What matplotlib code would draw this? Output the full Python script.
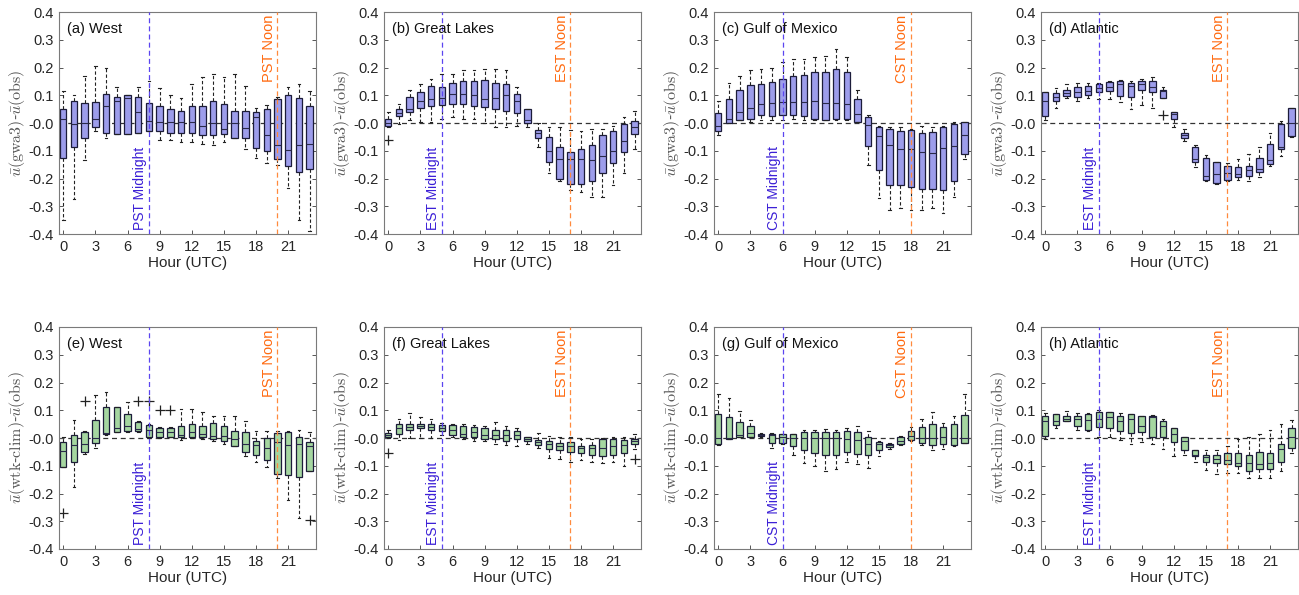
import matplotlib
matplotlib.use('Agg')
import matplotlib.pyplot as plt
import numpy as np

plt.rcParams['font.family'] = ['Liberation Sans', 'DejaVu Sans']
plt.rcParams['mathtext.fontset'] = 'cm'
plt.rcParams['axes.unicode_minus'] = False

hours = list(range(24))

# ---- (a) West, gwa3 ----
a_lo  = [-0.35, -0.275, -0.135, -0.03, -0.055, -0.04, -0.04, -0.035, -0.03, -0.06, -0.06, -0.07,
         -0.07, -0.075, -0.08, -0.07, -0.055, -0.095, -0.125, -0.145, -0.15, -0.235, -0.35, -0.39]
a_q1  = [-0.125, -0.085, -0.055, -0.015, -0.035, -0.04, -0.04, -0.035, -0.03, -0.03, -0.035, -0.035,
         -0.035, -0.045, -0.045, -0.04, -0.055, -0.055, -0.09, -0.10, -0.13, -0.155, -0.175, -0.165]
a_med = [0.015, -0.005, 0.0, 0.015, 0.063, 0.078, 0.09, 0.04, 0.008, 0.005, 0.005, 0.005,
         0.002, -0.01, 0.0, -0.02, 0.0, -0.018, 0.02, -0.045, -0.08, -0.097, -0.08, -0.075]
a_q3  = [0.05, 0.078, 0.072, 0.075, 0.105, 0.095, 0.10, 0.092, 0.073, 0.06, 0.05, 0.045,
         0.06, 0.063, 0.08, 0.07, 0.045, 0.045, 0.04, 0.052, 0.088, 0.10, 0.09, 0.06]
a_hi  = [0.115, 0.10, 0.17, 0.205, 0.20, 0.13, 0.10, 0.13, 0.15, 0.125, 0.10, 0.09,
         0.14, 0.165, 0.175, 0.165, 0.175, 0.135, 0.055, 0.065, 0.093, 0.13, 0.14, 0.115]
a_fl  = {}

# ---- (b) Great Lakes, gwa3 ----
b_lo  = [-0.015, -0.002, 0.01, 0.005, 0.005, 0.015, 0.02, 0.015, 0.015, 0.0, -0.015, -0.015,
         -0.01, -0.015, -0.085, -0.18, -0.21, -0.24, -0.25, -0.265, -0.265, -0.225, -0.18, -0.095]
b_q1  = [-0.01, 0.025, 0.04, 0.055, 0.06, 0.065, 0.07, 0.07, 0.06, 0.057, 0.052, 0.045,
         0.035, 0.0, -0.055, -0.14, -0.20, -0.22, -0.22, -0.21, -0.18, -0.145, -0.105, -0.04]
b_med = [0.0, 0.035, 0.05, 0.078, 0.085, 0.09, 0.105, 0.105, 0.10, 0.085, 0.09, 0.10,
         0.08, 0.012, -0.035, -0.10, -0.13, -0.13, -0.13, -0.135, -0.12, -0.10, -0.065, -0.015]
b_q3  = [0.015, 0.05, 0.095, 0.11, 0.135, 0.13, 0.145, 0.15, 0.15, 0.155, 0.145, 0.14,
         0.105, 0.05, -0.025, -0.05, -0.085, -0.105, -0.095, -0.08, -0.045, -0.03, -0.005, 0.008]
b_hi  = [0.04, 0.07, 0.12, 0.14, 0.16, 0.175, 0.175, 0.19, 0.19, 0.195, 0.195, 0.19,
         0.13, 0.05, 0.0, -0.015, -0.015, -0.025, -0.03, -0.02, -0.02, -0.01, 0.02, 0.045]
b_fl  = {0: [-0.06]}

# ---- (c) Gulf of Mexico, gwa3 ----
c_lo  = [-0.045, 0.0, 0.01, 0.005, 0.012, 0.012, 0.012, 0.015, 0.01, 0.01, 0.01, 0.01,
         0.01, 0.002, -0.15, -0.27, -0.315, -0.305, -0.315, -0.315, -0.305, -0.325, -0.265, -0.13]
c_q1  = [-0.03, 0.0, 0.012, 0.015, 0.03, 0.027, 0.03, 0.03, 0.025, 0.015, 0.012, 0.015,
         0.015, 0.005, -0.082, -0.168, -0.222, -0.222, -0.232, -0.237, -0.237, -0.243, -0.21, -0.113]
c_med = [-0.012, 0.015, 0.04, 0.053, 0.07, 0.072, 0.075, 0.075, 0.075, 0.078, 0.073, 0.072,
         0.07, 0.032, -0.008, -0.048, -0.08, -0.095, -0.095, -0.105, -0.108, -0.09, -0.082, -0.045]
c_q3  = [0.035, 0.088, 0.118, 0.138, 0.142, 0.148, 0.157, 0.168, 0.173, 0.183, 0.185, 0.195,
         0.183, 0.088, 0.02, -0.015, -0.022, -0.03, -0.025, -0.035, -0.032, -0.015, -0.003, 0.005]
c_hi  = [0.08, 0.145, 0.17, 0.19, 0.195, 0.198, 0.22, 0.232, 0.23, 0.237, 0.24, 0.265,
         0.238, 0.12, 0.03, -0.01, -0.015, -0.015, -0.02, -0.01, -0.015, -0.01, 0.005, 0.005]
c_fl  = {}

# ---- (d) Atlantic, gwa3 ----
d_lo  = [0.01, 0.055, 0.09, 0.08, 0.09, 0.085, 0.085, 0.075, 0.05, 0.065, 0.055, 0.09,
         -0.015, -0.065, -0.16, -0.21, -0.22, -0.21, -0.205, -0.21, -0.195, -0.155, -0.12, -0.05]
d_q1  = [0.025, 0.08, 0.098, 0.095, 0.10, 0.11, 0.115, 0.097, 0.095, 0.12, 0.11, 0.09,
         0.015, -0.055, -0.14, -0.205, -0.218, -0.205, -0.195, -0.19, -0.175, -0.148, -0.095, -0.048]
d_med = [0.08, 0.095, 0.108, 0.11, 0.115, 0.125, 0.13, 0.14, 0.135, 0.14, 0.13, 0.115,
         0.033, -0.045, -0.13, -0.19, -0.185, -0.18, -0.185, -0.17, -0.165, -0.135, -0.087, 0.0]
d_q3  = [0.11, 0.108, 0.12, 0.128, 0.133, 0.14, 0.148, 0.152, 0.145, 0.15, 0.15, 0.12,
         0.04, -0.035, -0.085, -0.125, -0.14, -0.155, -0.16, -0.155, -0.125, -0.075, -0.005, 0.053]
d_hi  = [0.11, 0.125, 0.14, 0.145, 0.145, 0.145, 0.15, 0.155, 0.15, 0.16, 0.165, 0.128,
         0.04, -0.02, -0.08, -0.115, -0.14, -0.145, -0.13, -0.11, -0.085, -0.035, 0.008, 0.055]
d_fl  = {11: [0.03]}

# ---- (e) West, wtk-clim ----
e_lo  = [-0.105, -0.175, -0.058, -0.035, 0.01, 0.02, 0.02, 0.02, 0.0, 0.0, 0.003, -0.008,
         0.0, -0.003, -0.01, -0.02, -0.03, -0.065, -0.085, -0.105, -0.145, -0.225, -0.29, -0.12]
e_q1  = [-0.103, -0.088, -0.05, -0.017, 0.013, 0.02, 0.025, 0.025, 0.003, 0.002, 0.005, 0.003,
         0.003, 0.003, -0.005, -0.012, -0.03, -0.05, -0.06, -0.08, -0.13, -0.135, -0.14, -0.12]
e_med = [-0.047, -0.025, -0.02, 0.0, 0.018, 0.035, 0.042, 0.033, 0.03, 0.02, 0.022, 0.012,
         0.02, 0.015, 0.008, 0.008, -0.002, -0.02, -0.025, -0.035, -0.015, -0.027, -0.02, -0.03]
e_q3  = [-0.015, 0.012, 0.022, 0.065, 0.11, 0.11, 0.088, 0.058, 0.047, 0.037, 0.037, 0.045,
         0.05, 0.045, 0.053, 0.045, 0.025, 0.02, -0.01, 0.0, 0.018, 0.02, 0.005, -0.015]
e_hi  = [0.005, 0.065, 0.025, 0.155, 0.165, 0.11, 0.13, 0.06, 0.05, 0.04, 0.04, 0.105,
         0.105, 0.095, 0.08, 0.08, 0.08, 0.06, 0.025, 0.025, 0.025, 0.027, 0.03, 0.02]
e_fl  = {0: [-0.27], 2: [0.135], 7: [0.135], 8: [0.135], 9: [0.10], 10: [0.10], 23: [-0.295]}

# ---- (f) Great Lakes, wtk-clim ----
f_lo  = [0.0, -0.008, 0.0, 0.0, 0.0, 0.01, 0.005, -0.005, -0.012, -0.012, -0.02, -0.025,
         -0.03, -0.02, -0.035, -0.072, -0.075, -0.085, -0.08, -0.085, -0.09, -0.085, -0.10, -0.04]
f_q1  = [0.005, 0.015, 0.03, 0.035, 0.03, 0.025, 0.01, 0.003, 0.005, -0.005, -0.005, -0.01,
         -0.005, -0.012, -0.025, -0.04, -0.045, -0.05, -0.055, -0.06, -0.065, -0.06, -0.053, -0.022]
f_med = [0.012, 0.035, 0.04, 0.043, 0.04, 0.035, 0.03, 0.015, 0.02, 0.012, 0.01, 0.01,
         0.01, -0.005, -0.015, -0.022, -0.03, -0.03, -0.035, -0.035, -0.035, -0.03, -0.025, -0.01]
f_q3  = [0.018, 0.05, 0.05, 0.05, 0.05, 0.048, 0.048, 0.045, 0.04, 0.035, 0.03, 0.028,
         0.025, 0.003, -0.008, -0.01, -0.018, -0.015, -0.03, -0.025, -0.005, -0.002, -0.008, -0.003]
f_hi  = [0.028, 0.07, 0.09, 0.075, 0.07, 0.055, 0.052, 0.05, 0.047, 0.045, 0.057, 0.045,
         0.035, 0.005, 0.018, 0.008, 0.003, 0.003, -0.005, -0.005, 0.0, 0.003, 0.003, 0.015]
f_fl  = {0: [-0.053], 23: [-0.075]}

# ---- (g) Gulf of Mexico, wtk-clim ----
g_lo  = [-0.025, -0.005, 0.005, 0.005, 0.005, -0.035, -0.02, -0.06, -0.09, -0.10, -0.118, -0.11,
         -0.085, -0.095, -0.108, -0.065, -0.04, -0.025, -0.01, -0.025, -0.045, -0.04, -0.03, -0.018]
g_q1  = [-0.02, -0.005, 0.005, 0.005, 0.008, -0.018, -0.018, -0.03, -0.045, -0.053, -0.063, -0.06,
         -0.05, -0.058, -0.062, -0.045, -0.032, -0.02, -0.008, -0.018, -0.025, -0.022, -0.025, -0.018]
g_med = [0.0, 0.0, 0.01, 0.017, 0.012, 0.01, 0.005, 0.0, 0.0, 0.0, 0.0, 0.0,
         -0.005, -0.008, -0.02, -0.02, -0.025, -0.01, 0.008, 0.0, 0.0, 0.005, 0.0, 0.0]
g_q3  = [0.085, 0.077, 0.057, 0.042, 0.016, 0.015, 0.015, 0.015, 0.02, 0.022, 0.02, 0.022,
         0.025, 0.022, 0.005, -0.015, -0.02, 0.003, 0.025, 0.04, 0.05, 0.038, 0.05, 0.083]
g_hi  = [0.16, 0.145, 0.097, 0.065, 0.018, 0.018, 0.015, 0.015, 0.03, 0.03, 0.033, 0.028,
         0.037, 0.042, 0.025, -0.01, -0.018, 0.008, 0.04, 0.07, 0.095, 0.055, 0.08, 0.157]
g_fl  = {}

# ---- (h) Atlantic, wtk-clim ----
h_lo  = [-0.005, 0.035, 0.06, 0.03, 0.025, 0.005, 0.005, -0.008, -0.022, -0.015, -0.02, -0.04,
         -0.065, -0.06, -0.085, -0.115, -0.13, -0.125, -0.125, -0.145, -0.145, -0.145, -0.12, -0.055]
h_q1  = [0.008, 0.048, 0.06, 0.045, 0.03, 0.038, 0.035, 0.025, 0.018, 0.02, 0.003, 0.003,
         -0.015, -0.045, -0.065, -0.085, -0.09, -0.095, -0.10, -0.118, -0.11, -0.11, -0.085, -0.035]
h_med = [0.06, 0.06, 0.07, 0.07, 0.065, 0.07, 0.075, 0.06, 0.07, 0.045, 0.075, 0.045,
         0.015, -0.01, -0.06, -0.07, -0.075, -0.08, -0.09, -0.09, -0.095, -0.09, -0.04, 0.005]
h_q3  = [0.08, 0.085, 0.08, 0.08, 0.085, 0.095, 0.095, 0.08, 0.085, 0.08, 0.08, 0.06,
         0.035, 0.002, -0.045, -0.06, -0.06, -0.055, -0.055, -0.06, -0.05, -0.055, -0.02, 0.035]
h_hi  = [0.09, 0.087, 0.097, 0.09, 0.09, 0.10, 0.095, 0.09, 0.088, 0.08, 0.082, 0.07,
         0.035, 0.005, -0.045, -0.045, -0.045, -0.03, -0.005, 0.005, 0.015, 0.03, 0.05, 0.065]
h_fl  = {}

panels = [
    ('(a) West', 'PST', 8, 20, a_lo, a_q1, a_med, a_q3, a_hi, a_fl),
    ('(b) Great Lakes', 'EST', 5, 17, b_lo, b_q1, b_med, b_q3, b_hi, b_fl),
    ('(c) Gulf of Mexico', 'CST', 6, 18, c_lo, c_q1, c_med, c_q3, c_hi, c_fl),
    ('(d) Atlantic', 'EST', 5, 17, d_lo, d_q1, d_med, d_q3, d_hi, d_fl),
    ('(e) West', 'PST', 8, 20, e_lo, e_q1, e_med, e_q3, e_hi, e_fl),
    ('(f) Great Lakes', 'EST', 5, 17, f_lo, f_q1, f_med, f_q3, f_hi, f_fl),
    ('(g) Gulf of Mexico', 'CST', 6, 18, g_lo, g_q1, g_med, g_q3, g_hi, g_fl),
    ('(h) Atlantic', 'EST', 5, 17, h_lo, h_q1, h_med, h_q3, h_hi, h_fl),
]

ylab_top = r'$\bar{u}(\mathrm{gwa3})$' + '-' + r'$\bar{u}(\mathrm{obs})$'
ylab_bot = r'$\bar{u}(\mathrm{wtk}$' + '-' + r'$\mathrm{clim})$' + '-' + r'$\bar{u}(\mathrm{obs})$'

W, H = 1299, 595
fig = plt.figure(figsize=(W / 100, H / 100), dpi=100)
lefts = [59, 384, 714, 1041]
tops = [12, 327]
aw, ah = 257, 222

for i, (title, tz, mid, noon, lo, q1, med, q3, hi, fl) in enumerate(panels):
    row, col = divmod(i, 4)
    ax = fig.add_axes([lefts[col] / W, 1 - (tops[row] + ah) / H, aw / W, ah / H])
    fill = '#9d9deb' if row == 0 else '#a5d6a0'
    stats = []
    for k in range(24):
        stats.append(dict(whislo=lo[k], q1=q1[k], med=med[k], q3=q3[k], whishi=hi[k],
                          fliers=fl.get(k, [])))
    ax.axhline(0, color='#333333', lw=0.9, ls=(0, (4, 3)), zorder=1)
    ax.bxp(stats, positions=hours, widths=0.6, patch_artist=True, showfliers=True,
           boxprops=dict(facecolor=fill, edgecolor='#1c1c3a', lw=0.9),
           medianprops=dict(color='#2a2a4a', lw=0.8),
           whiskerprops=dict(color='#222222', lw=0.8, ls=(0, (3, 2))),
           capprops=dict(color='#222222', lw=0.8),
           capwidths=0.25,
           flierprops=dict(marker='+', markeredgecolor='#222222', markersize=7, mew=0.9))
    ax.axvline(mid, color='#5b45f0', lw=0.9, ls=(0, (4, 2.5)), zorder=3)
    ax.axvline(noon, color='#ff8a3d', lw=0.9, ls=(0, (4, 2.5)), zorder=3)
    ax.text(mid - 0.15, -0.385, tz + ' Midnight', rotation=90, ha='right', va='bottom',
            color='#3b1fd6', fontsize=10)
    ax.text(noon - 0.15, 0.39, tz + ' Noon', rotation=90, ha='right', va='top',
            color='#ff6a10', fontsize=10.5)
    ax.text(0.03, 0.955, title, transform=ax.transAxes, ha='left', va='top',
            fontsize=10.5, color='#111111')
    ax.set_xlim(-0.4, 23.6)
    ax.set_ylim(-0.4, 0.4)
    ax.set_xticks(range(0, 24, 3))
    ax.set_xticklabels([str(h) for h in range(0, 24, 3)])
    ax.set_yticks(np.arange(-0.4, 0.41, 0.1))
    ax.set_yticklabels(['%.1f' % v for v in np.arange(-0.4, 0.41, 0.1)])
    ax.tick_params(direction='in', length=3, width=0.7, labelsize=10.5, colors='#555555',
                   labelcolor='#262626', top=False, right=True, pad=4)
    for s in ax.spines.values():
        s.set_color('#7a7a7a')
        s.set_linewidth(0.8)
    ax.set_xlabel('Hour (UTC)', fontsize=11, color='#262626', labelpad=2)
    ax.set_ylabel(ylab_top if row == 0 else ylab_bot, fontsize=11.5, color='#555555', labelpad=1)

plt.savefig('out.png', dpi=100)
